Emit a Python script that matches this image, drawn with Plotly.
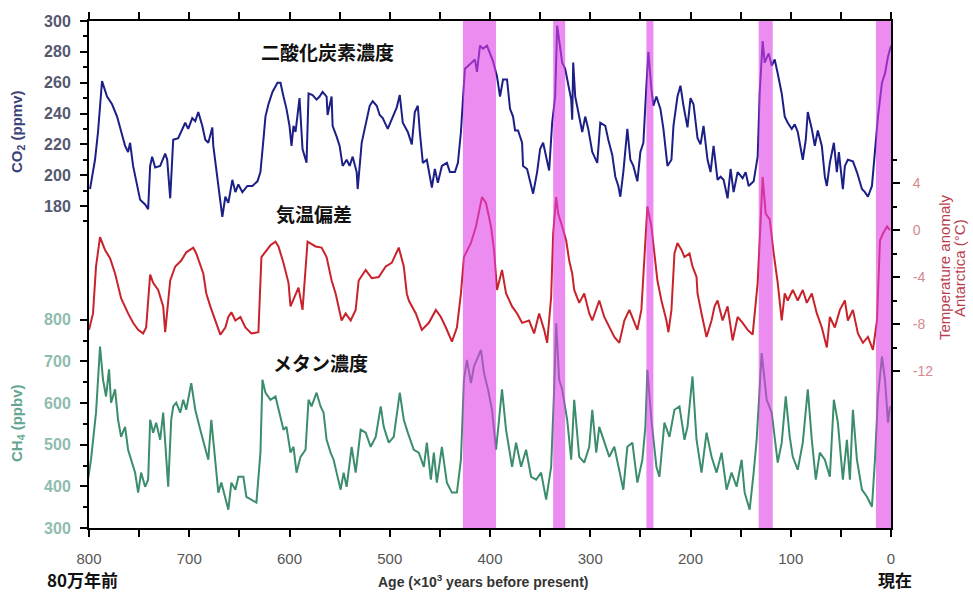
import plotly.graph_objects as go

# ---------------- data ----------------
co2_age = [799, 794, 791, 787, 782, 777, 772, 767, 764, 761, 759, 756, 752, 749, 744, 741, 739, 737, 734, 729,
           724, 722, 719, 716, 711, 707, 704, 701, 697, 694, 691, 687, 684, 681, 677, 676, 672, 669, 667, 664,
           661, 657, 654, 651, 647, 642, 637, 632, 629, 626, 624, 621, 617, 612, 609, 606, 603, 600, 598, 596,
           594, 592, 590, 588, 587, 583, 581, 577, 573, 570, 567, 563, 562, 558, 557, 553, 550, 547, 543, 540,
           537, 533, 532, 528, 525, 520, 517, 513, 510, 507, 502, 497, 493, 490, 487, 482, 478, 475, 472, 470,
           467, 463, 458, 455, 452, 448, 443, 440, 435, 432, 429, 427, 425, 420, 415, 413, 410, 407, 403, 400,
           397, 393, 390, 387, 383, 380, 377, 375, 372, 368, 367, 363, 360, 357, 353, 350, 347, 343, 341, 338,
           335, 333, 331, 328, 325, 322, 319, 318, 317, 315, 312, 308, 305, 302, 298, 293, 290, 285, 282, 278,
           275, 272, 270, 267, 263, 260, 257, 253, 250, 247, 244, 242, 239, 237, 234, 230, 227, 223, 219, 217,
           213, 210, 207, 203, 200, 197, 193, 190, 187, 183, 180, 177, 173, 170, 167, 163, 160, 157, 153, 148,
           145, 142, 137, 133, 131, 128, 126, 122, 119, 116, 113, 109, 106, 103, 99, 96, 93, 88, 85, 83,
           79, 76, 73, 69, 66, 64, 61, 57, 54, 52, 48, 46, 43, 38, 34, 29, 26, 23, 19, 16,
           13, 9, 6, 3, 0]
co2_ppmv = [191, 210, 228, 261, 251, 246, 238, 225, 219, 215, 221, 206, 193, 184, 181, 178, 206, 212, 205, 206,
            214, 210, 185, 223, 224, 230, 234, 230, 237, 235, 241, 232, 223, 221, 231, 219, 197, 182, 173, 186,
            182, 197, 189, 194, 189, 193, 193, 196, 202, 223, 238, 246, 254, 260, 260, 251, 243, 232, 219, 232,
            228, 239, 250, 228, 217, 208, 253, 252, 249, 251, 254, 251, 239, 251, 232, 225, 219, 206, 210, 206,
            212, 202, 191, 221, 230, 245, 248, 245, 239, 237, 230, 238, 244, 252, 234, 228, 220, 241, 245, 228,
            208, 210, 192, 204, 195, 206, 208, 202, 202, 208, 228, 249, 269, 272, 275, 267, 284, 282, 284, 279,
            274, 264, 251, 262, 262, 243, 238, 229, 229, 221, 206, 204, 195, 188, 202, 217, 221, 208, 203, 234,
            251, 297, 286, 273, 269, 260, 249, 236, 273, 251, 241, 228, 238, 230, 215, 208, 234, 232, 223, 213,
            199, 193, 186, 202, 230, 210, 206, 196, 215, 221, 258, 280, 256, 245, 251, 243, 230, 206, 210, 232,
            251, 258, 245, 231, 250, 246, 224, 220, 232, 210, 202, 219, 197, 199, 197, 185, 204, 189, 202, 198,
            202, 193, 196, 212, 253, 287, 273, 279, 271, 275, 266, 253, 238, 234, 230, 233, 228, 210, 223, 241,
            230, 219, 229, 219, 199, 193, 208, 221, 202, 215, 191, 206, 210, 209, 202, 191, 189, 186, 193, 217,
            238, 260, 266, 277, 284]

temp_age = [800, 796, 793, 789, 784, 779, 774, 771, 768, 761, 756, 751, 746, 743, 739, 736, 731, 726, 724, 719,
            714, 708, 703, 696, 693, 686, 683, 679, 674, 669, 664, 661, 658, 654, 649, 644, 638, 631, 628, 619,
            614, 611, 606, 601, 599, 594, 591, 587, 582, 574, 568, 563, 558, 554, 551, 548, 544, 539, 534, 531,
            524, 518, 511, 504, 498, 491, 486, 483, 481, 474, 468, 461, 454, 449, 444, 438, 433, 429, 426, 419,
            414, 411, 408, 404, 399, 396, 394, 393, 388, 384, 378, 373, 368, 361, 356, 351, 346, 343, 339, 337,
            334, 332, 328, 324, 321, 318, 316, 311, 306, 301, 298, 291, 286, 281, 276, 271, 266, 261, 256, 253,
            249, 245, 243, 239, 236, 233, 229, 224, 222, 219, 216, 213, 209, 206, 201, 198, 194, 193, 189, 184,
            179, 176, 173, 168, 163, 158, 153, 148, 143, 138, 133, 128, 125, 121, 117, 113, 109, 106, 103, 98,
            93, 88, 84, 79, 74, 69, 64, 61, 56, 51, 46, 43, 38, 33, 28, 23, 18, 14, 11, 8,
            4, 1]
temp_anom = [-8.5, -7.1, -3.1, -0.6, -1.7, -2.4, -3.7, -4.9, -5.8, -7.1, -7.9, -8.5, -8.8, -8.3, -3.8, -4.5, -5.1, -6.5, -8.7, -4.3,
             -3.1, -2.6, -1.9, -1.5, -2.0, -3.7, -5.4, -6.5, -7.7, -8.9, -8.3, -7.4, -7.0, -7.7, -7.4, -8.3, -8.8, -8.7, -2.3, -1.3,
             -1.0, -1.4, -2.8, -4.5, -6.5, -5.4, -4.9, -6.8, -1.0, -1.4, -1.5, -2.3, -4.3, -5.4, -6.5, -7.7, -7.1, -7.7, -6.8, -4.3,
             -3.4, -4.1, -4.0, -3.1, -2.8, -1.5, -3.1, -5.4, -6.0, -7.1, -8.5, -7.9, -6.8, -7.4, -8.3, -9.5, -8.3, -5.4, -2.3, -1.1,
             0.3, 1.7, 2.8, 2.3, 0.3, -1.7, -4.3, -5.1, -3.4, -5.4, -6.5, -7.1, -7.9, -7.7, -8.8, -7.1, -8.5, -9.6, -5.7, -0.3,
             2.8, 1.4, 0.3, -0.9, -2.6, -3.7, -5.1, -6.2, -5.4, -7.1, -7.7, -6.0, -7.4, -8.3, -9.1, -9.6, -7.7, -6.8, -7.9, -8.5,
             -6.8, -0.9, 2.0, 0.3, -2.0, -4.3, -6.0, -7.7, -8.7, -6.8, -2.0, -1.1, -1.7, -2.3, -2.0, -3.1, -4.0, -5.4, -7.1, -9.1,
             -7.7, -6.5, -6.0, -7.7, -6.5, -9.4, -7.4, -7.9, -8.5, -8.9, -4.5, 4.5, 1.4, 0.9, -2.0, -4.5, -7.7, -5.4, -6.0, -5.1,
             -6.0, -5.1, -6.2, -5.4, -7.1, -8.3, -10.0, -7.4, -8.3, -6.8, -6.0, -7.7, -6.8, -8.8, -9.6, -9.1, -10.2, -7.7, -0.9, -0.3,
             0.3, 0.0]

ch4_age = [801, 798, 793, 789, 786, 783, 780, 778, 774, 771, 768, 764, 761, 758, 754, 751, 748, 744, 741, 739,
           736, 733, 729, 726, 724, 721, 718, 716, 713, 709, 706, 703, 698, 694, 689, 684, 681, 678, 674, 671,
           668, 664, 661, 658, 654, 651, 646, 643, 638, 633, 629, 627, 624, 619, 614, 611, 606, 603, 599, 596,
           593, 589, 584, 581, 578, 573, 569, 566, 563, 559, 556, 553, 549, 546, 543, 538, 534, 529, 524, 519,
           514, 509, 506, 501, 496, 490, 486, 482, 476, 471, 466, 463, 459, 456, 453, 448, 443, 438, 433, 429,
           426, 423, 419, 416, 413, 409, 406, 402, 398, 394, 391, 388, 384, 381, 378, 374, 369, 364, 359, 354,
           349, 344, 339, 336, 334, 331, 328, 323, 319, 316, 311, 306, 301, 298, 294, 291, 286, 281, 276, 271,
           267, 263, 258, 253, 248, 245, 243, 239, 234, 231, 226, 221, 216, 211, 206, 203, 198, 194, 189, 184,
           179, 174, 169, 164, 159, 154, 149, 146, 141, 137, 134, 129, 124, 119, 116, 113, 109, 105, 101, 98,
           93, 88, 83, 79, 75, 71, 66, 61, 57, 53, 48, 44, 41, 38, 34, 29, 24, 19, 16, 13,
           9, 6, 3, 1]
ch4_ppbv = [416, 464, 577, 736, 656, 616, 681, 601, 633, 560, 519, 543, 488, 464, 433, 385, 433, 399, 416, 560,
            529, 553, 512, 577, 495, 399, 560, 592, 601, 577, 608, 584, 648, 584, 536, 495, 464, 560, 464, 385,
            409, 375, 344, 409, 392, 423, 423, 375, 368, 361, 481, 656, 625, 608, 616, 584, 536, 543, 481, 495,
            433, 471, 488, 608, 592, 625, 592, 577, 512, 481, 464, 433, 392, 433, 399, 495, 433, 536, 529, 495,
            519, 592, 543, 505, 519, 625, 560, 529, 488, 481, 447, 505, 416, 481, 409, 495, 409, 385, 385, 464,
            656, 704, 648, 688, 704, 728, 672, 633, 584, 488, 560, 633, 536, 495, 447, 505, 447, 488, 423, 416,
            433, 368, 447, 633, 792, 656, 633, 560, 464, 608, 471, 457, 495, 584, 481, 543, 505, 471, 495, 433,
            392, 495, 505, 409, 464, 543, 680, 560, 447, 423, 553, 519, 584, 592, 512, 543, 664, 512, 433, 529,
            471, 433, 481, 392, 433, 399, 464, 385, 344, 433, 512, 720, 608, 577, 519, 457, 505, 616, 519, 471,
            440, 505, 633, 512, 416, 481, 464, 423, 608, 553, 416, 512, 416, 584, 464, 392, 375, 351, 464, 616,
            712, 656, 553, 592]

warm_start = [427, 337, 244, 132, 15]
warm_end = [394, 325, 237, 118, 0]

x_ticks = list(range(0, 801, 100))
x_minor = list(range(50, 800, 100))
co2_ticks = [180, 200, 220, 240, 260, 280, 300]
co2_minor = [170, 190, 210, 230, 250, 270, 290]
temp_ticks = [4, 0, -4, -8, -12]
temp_minor = [6, 2, -2, -6, -10]
ch4_ticks = [300, 400, 500, 600, 700, 800]
ch4_minor = [350, 450, 550, 650, 750]

# ---------------- layout geometry ----------------
W, H = 973, 594
L, R, T, B = 89, 891, 21, 528


def px(x):
    return (x - L) / (R - L)


def py(y):
    return (B - y) / (B - T)


fig = go.Figure()
fig.add_trace(go.Scatter(x=co2_age, y=co2_ppmv, mode="lines", yaxis="y",
                         line=dict(color="#1c1f86", width=2), hoverinfo="skip"))
fig.add_trace(go.Scatter(x=temp_age, y=temp_anom, mode="lines", yaxis="y2",
                         line=dict(color="#c8232b", width=2), hoverinfo="skip"))
fig.add_trace(go.Scatter(x=ch4_age, y=ch4_ppbv, mode="lines", yaxis="y3",
                         line=dict(color="#3b8d6c", width=2), hoverinfo="skip"))

for a0, a1 in zip(warm_start, warm_end):
    fig.add_shape(type="rect", xref="x", yref="paper", x0=a0, x1=a1, y0=0, y1=1,
                  fillcolor="rgb(224,64,232)", opacity=0.6, line=dict(width=0), layer="above")

tick_common = dict(ticks="outside", ticklen=7, tickwidth=2, tickcolor="black",
                   showline=True, linecolor="black", linewidth=2, showgrid=False, zeroline=False)
fig.update_layout(
    width=W, height=H, margin=dict(l=L, r=W - R, t=T, b=H - B),
    paper_bgcolor="white", plot_bgcolor="white", showlegend=False,
    xaxis=dict(range=[800, 0], tickmode="array", tickvals=x_ticks, mirror="ticks",
               minor=dict(tickmode="array", tickvals=x_minor, ticks="outside", ticklen=7,
                          tickwidth=2, tickcolor="black", showgrid=False),
               ticklabelstandoff=9,
               tickfont=dict(family="Liberation Sans, Arial", size=15, color="#555555"),
               **tick_common),
    yaxis=dict(range=[300 - (B - T) / 1.5417, 300], tickmode="array", tickvals=co2_ticks,
               minor=dict(tickmode="array", tickvals=co2_minor, ticks="outside", ticklen=4,
                          tickwidth=2, tickcolor="black", showgrid=False),
               ticklabelstandoff=6,
               tickfont=dict(family="Liberation Sans, Arial", size=16, color="#555870", weight="bold"),
               **tick_common),
    yaxis2=dict(range=[-(B - 230) / 11.75, (230 - T) / 11.75], overlaying="y", side="right",
                tickmode="array", tickvals=temp_ticks, ticktext=[str(v) for v in temp_ticks],
                minor=dict(tickmode="array", tickvals=temp_minor, ticks="outside", ticklen=4,
                           tickwidth=2, tickcolor="black", showgrid=False),
                ticklabelstandoff=10,
                tickfont=dict(family="Liberation Sans, Arial", size=14, color="#d6878f"),
                **tick_common),
    yaxis3=dict(range=[300, 300 + (B - T) / 0.4163], overlaying="y", side="left",
                tickmode="array", tickvals=ch4_ticks,
                minor=dict(tickmode="array", tickvals=ch4_minor, ticks="outside", ticklen=4,
                           tickwidth=2, tickcolor="black", showgrid=False),
                ticklabelstandoff=6,
                tickfont=dict(family="Liberation Sans, Arial", size=16, color="#8fbcae", weight="bold"),
                **tick_common),
)

cjk = "Noto Sans CJK JP"
ann = [
    dict(text="<b>二酸化炭素濃度</b>", x=px(327), y=py(52), font=dict(family=cjk, size=19, color="#111")),
    dict(text="<b>気温偏差</b>", x=px(314), y=py(213), font=dict(family=cjk, size=19, color="#111")),
    dict(text="<b>メタン濃度</b>", x=px(320), y=py(362), font=dict(family=cjk, size=19, color="#111")),
    dict(text="<b>CO<sub>2</sub> (ppmv)</b>", x=px(17), y=py(132), textangle=-90,
         font=dict(family="Liberation Sans, Arial", size=15, color="#3d4278")),
    dict(text="<b>CH<sub>4</sub> (ppbv)</b>", x=px(17), y=py(423), textangle=-90,
         font=dict(family="Liberation Sans, Arial", size=15, color="#64a592")),
    dict(text="Temperature anomaly", x=px(944), y=py(267), textangle=-90,
         font=dict(family="Liberation Sans, Arial", size=15, color="#b8404e")),
    dict(text="Antarctica (°C)", x=px(959), y=py(268), textangle=-90,
         font=dict(family="Liberation Sans, Arial", size=15, color="#b8404e")),
    dict(text="<b>Age (×10<sup>3</sup> years before present)</b>", x=px(483), y=py(581),
         font=dict(family="Liberation Sans, Arial", size=14, color="#333")),
]
for a in ann:
    fig.add_annotation(xref="paper", yref="paper", showarrow=False,
                       xanchor="center", yanchor="middle", **a)

# bottom-corner labels, anchored to the bottom edge so they stay inside the page
for text, xc in [("<b>80万年前</b>", 82), ("<b>現在</b>", 895)]:
    fig.add_annotation(xref="paper", yref="paper", showarrow=False, text=text,
                       x=px(xc), y=py(H - 1), xanchor="center", yanchor="bottom",
                       borderpad=0, font=dict(family=cjk, size=17, color="#111"))

fig.write_html("out.html")
